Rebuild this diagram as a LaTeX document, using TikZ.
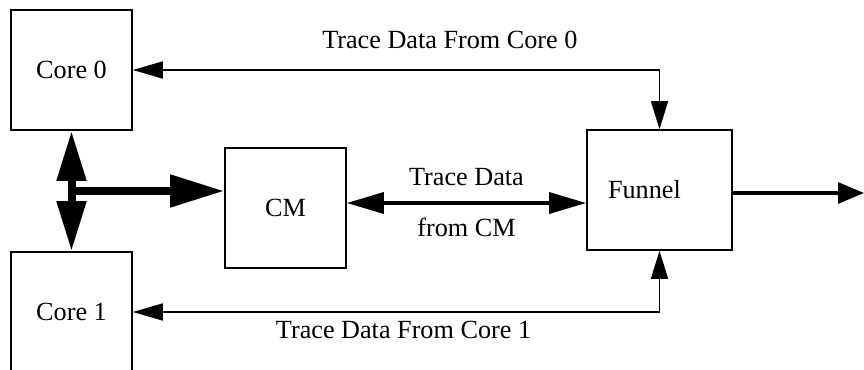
\documentclass[tikz,border=0pt]{standalone}
\usepackage{fontspec}
\setmainfont{Liberation Serif}
\usetikzlibrary{arrows.meta,positioning}

\begin{document}
\begin{tikzpicture}[
  x=0.5pt, y=-0.5pt,
  box/.style={draw, line width=0.8pt, minimum width=60.5pt, minimum height=60pt, inner sep=0pt, align=center, font=\fontsize{13.1}{15}\selectfont},
  lbl/.style={font=\fontsize{13.1}{15}\selectfont},
  thinarrow/.style={{Triangle[length=15pt,width=8.5pt]}-{Triangle[length=14pt,width=8.5pt]}, line width=0.75pt},
  midarrow/.style={{Triangle[length=18.5pt,width=10.5pt]}-{Triangle[length=18.5pt,width=10.5pt]}, line width=1.7pt},
  outarrow/.style={-{Triangle[length=13pt,width=10.5pt]}, line width=1.6pt},
  busarrow/.style={{Triangle[length=25pt,width=14pt]}-{Triangle[length=25pt,width=14pt]}, line width=4pt},
  feedarrow/.style={-{Triangle[length=27pt,width=15.5pt]}, line width=4pt}
]
\useasboundingbox (0,0) rectangle (864,370);

% blocks
\node[box] (core0) at (71.5,70) {Core 0};
\node[box] (core1) at (71.5,312) {Core 1};
\node[box] (cm) at (285.5,208) {CM};
\node[box, minimum width=72.5pt, text width=51.5pt, inner xsep=10.5pt, align=left] (funnel) at (659.5,190) {Funnel};

% trace paths into the funnel
\draw[thinarrow] (core0.east) -| node[lbl, pos=0.301, above=7pt] {Trace Data From Core 0} (funnel.north);
\draw[thinarrow] (core1.east) -| node[lbl, pos=0.257, below=1pt] {Trace Data From Core 1} (funnel.south);

\coordinate (cmout) at ([yshift=2.5pt]cm.east);
\draw[midarrow] (cmout) -- node[lbl, above=4.6pt] {Trace Data} node[lbl, below=3.1pt] {from CM} (cmout -| funnel.west);

\coordinate (exit) at (864,193);
\draw[outarrow] (funnel.east |- exit) -- (exit);

% core bus and feed to CM
\draw[busarrow] (core0.south) -- (core1.north);
\coordinate (tap) at (71.5,191);
\draw[feedarrow] (tap) -- (tap -| cm.west);
\end{tikzpicture}
\end{document}
